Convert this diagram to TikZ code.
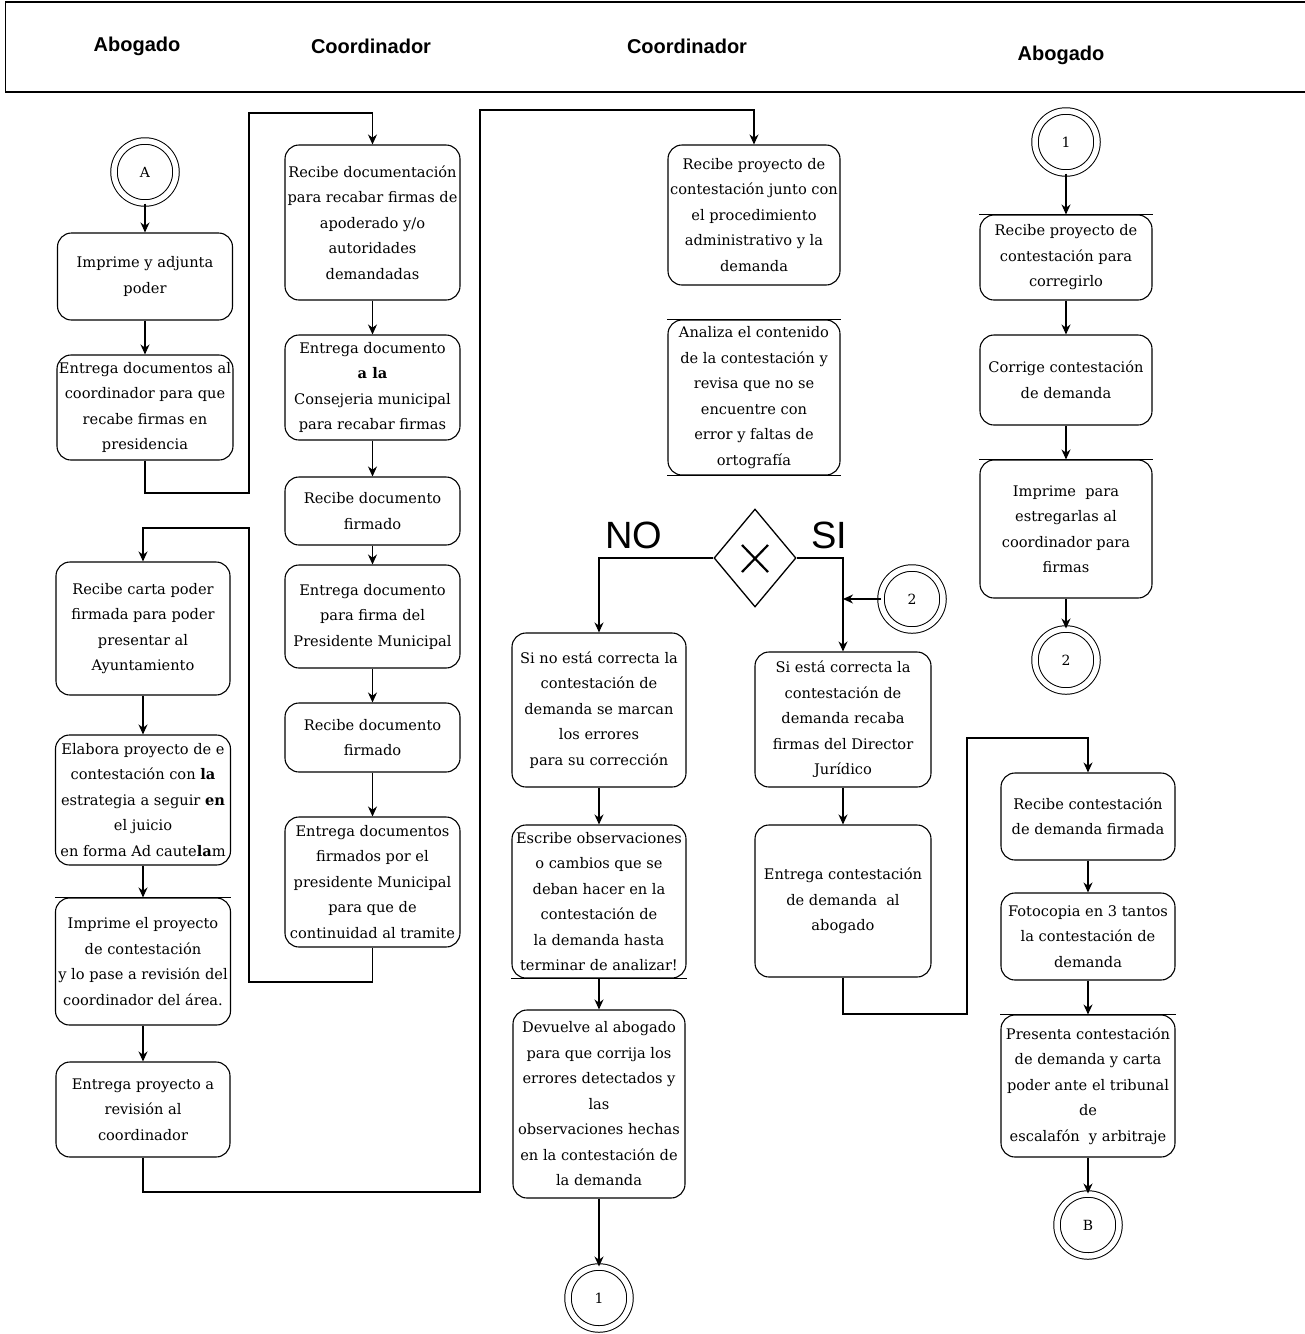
\documentclass[tikz,border=0pt]{standalone}
\usepackage{fontspec}
\setmainfont{DejaVu Serif}
\newfontfamily\hdrfont{Liberation Sans}
\usetikzlibrary{arrows.meta,shapes.geometric}
\begin{document}
\begin{tikzpicture}[x=1pt,y=-1pt,
  box/.style={draw, line width=1.1pt, rounded corners=14pt, align=center, inner sep=1pt, font=\fontsize{14.6}{25.5}\selectfont},
  conn/.style={draw, line width=1.1pt},
  arr/.style={conn, -{Stealth[length=10pt,width=9pt]}},
  circ/.style={circle, draw, line width=1pt, double, double distance=5.5pt, minimum size=62pt, inner sep=0pt, font=\fontsize{14}{16}\selectfont},
  hdr/.style={font=\hdrfont\bfseries\fontsize{20}{24}\selectfont},
  lbl/.style={font=\hdrfont\fontsize{38}{40}\selectfont},
  gate/.style={diamond, draw, line width=1.3pt, minimum width=82pt, minimum height=98pt, inner sep=0pt},
]
\useasboundingbox (0,0) rectangle (1305,1334);
\fill[white] (0,0) rectangle (1305,1334);

% header
\draw[line width=1.5pt] (5,2) -- (1305,2);
\draw[line width=1.5pt] (5,92) -- (1305,92);
\draw[line width=1pt] (5,2) -- (5,92);
\node[hdr] (h1t) at (137,46) {Abogado};
\node[hdr] (h2t) at (371,46) {Coordinador};
\node[hdr] (h3t) at (687,46) {Coordinador};
\node[hdr] (h4t) at (1061,55) {Abogado};

% column 1
\node[circ] (cA) at (145,172) {A};
\node[box, minimum width=175pt, minimum height=87pt] (b1) at (145,276.5) {Imprime y adjunta\\poder};
\node[box, minimum width=176pt, minimum height=105pt] (b2) at (145,407.5) {Entrega documentos al\\coordinador para que\\recabe firmas en\\presidencia};
\node[box, minimum width=174pt, minimum height=133pt] (b3) at (143,628.5) {Recibe carta poder\\firmada para poder\\presentar al\\Ayuntamiento};
\node[box, minimum width=175pt, minimum height=130pt] (b4) at (143,800) {Elabora proyecto de e\\contestación con \textbf{la}\\estrategia a seguir \textbf{en}\\el juicio\\en forma Ad caute\textbf{la}m};
\node[box, minimum width=175pt, minimum height=127pt] (b5) at (143,961.5) {Imprime el proyecto\\de contestación\\y lo pase a revisión del\\coordinador del área.};
\node[box, minimum width=174pt, minimum height=95pt] (b6) at (143,1109.5) {Entrega proyecto a\\revisión al\\coordinador};

% column 2
\node[box, minimum width=175pt, minimum height=155pt] (c1) at (372.5,222.5) {Recibe documentación\\para recabar firmas de\\apoderado y/o\\autoridades\\demandadas};
\node[box, minimum width=175pt, minimum height=105pt] (c2) at (372.5,387.5) {Entrega documento\\\textbf{a la}\\Consejeria municipal\\para recabar firmas};
\node[box, minimum width=175pt, minimum height=68pt] (c3) at (372.5,511) {Recibe documento\\firmado};
\node[box, minimum width=175pt, minimum height=103pt] (c4) at (372.5,616.5) {Entrega documento\\para firma del\\Presidente Municipal};
\node[box, minimum width=175pt, minimum height=69pt] (c5) at (372.5,737.5) {Recibe documento\\firmado};
\node[box, minimum width=175pt, minimum height=130pt] (c6) at (372.5,882) {Entrega documentos\\firmados por el\\presidente Municipal\\para que de\\continuidad al tramite};

% column 3
\node[box, minimum width=172pt, minimum height=140pt] (d1) at (754,215) {Recibe proyecto de\\contestación junto con\\el procedimiento\\administrativo y la\\demanda};
\node[box, minimum width=172pt, minimum height=155pt] (d2) at (754,397.5) {Analiza el contenido\\de la contestación y\\revisa que no se\\encuentre con\\error y faltas de\\ortografía};
\node[gate] (g) at (755,558) {};
\draw[line width=2.2pt] (742,545) -- (768,572);
\draw[line width=2.2pt] (768,545) -- (742,572);
\node[lbl] (lno) at (634,535) {NO};
\node[lbl] (lsi) at (829,535) {SI};
\node[circ] (c2a) at (912,599) {2};
\node[box, minimum width=174pt, minimum height=154pt] (e1) at (599,710) {Si no está correcta la\\contestación de\\demanda se marcan\\los errores\\para su corrección};
\node[box, minimum width=176pt, minimum height=135pt] (e2) at (843,719.5) {Si está correcta la\\contestación de\\demanda recaba\\firmas del Director\\Jurídico};
\node[box, minimum width=174pt, minimum height=153pt] (f1) at (599,901.5) {Escribe observaciones\\o cambios que se\\deban hacer en la\\contestación de\\la demanda hasta\\terminar de analizar!};
\node[box, minimum width=176pt, minimum height=152pt] (f2) at (843,901) {Entrega contestación\\de demanda\ \ al\\abogado};
\node[box, minimum width=172pt, minimum height=188pt] (g1) at (599,1104) {Devuelve al abogado\\para que corrija los\\errores detectados y\\las\\observaciones hechas\\en la contestación de\\la demanda};
\node[circ] (c1b) at (599,1298) {1};

% column 4
\node[circ] (c1a) at (1066,142) {1};
\node[box, minimum width=172pt, minimum height=85pt] (k1) at (1066,257.5) {Recibe proyecto de\\contestación para\\corregirlo};
\node[box, minimum width=172pt, minimum height=90pt] (k2) at (1066,380) {Corrige contestación\\de demanda};
\node[box, minimum width=172pt, minimum height=138pt] (k3) at (1066,529) {Imprime\ \ para\\estregarlas al\\coordinador para\\firmas};
\node[circ] (c2b) at (1066,660) {2};
\node[box, minimum width=174pt, minimum height=87pt] (i1) at (1088,816.5) {Recibe contestación\\de demanda firmada};
\node[box, minimum width=174pt, minimum height=87pt] (i2) at (1088,936.5) {Fotocopia en 3 tantos\\la contestación de\\demanda};
\node[box, minimum width=174pt, minimum height=142pt] (i3) at (1088,1086) {Presenta contestación\\de demanda y carta\\poder ante el tribunal\\de\\escalafón\ \ y arbitraje};
\node[circ] (cB) at (1088,1225) {B};

% straight edge artefacts on some boxes
\draw[conn] (d2.north west) -- (d2.north east);
\draw[conn] (d2.south west) -- (d2.south east);
\draw[conn] (f1.south west) -- (f1.south east);
\draw[conn] (k1.north west) -- (k1.north east);
\draw[conn] (k3.north west) -- (k3.north east);
\draw[conn] (b5.north west) -- (b5.north east);
\draw[conn] (i3.north west) -- (i3.north east);

% connectors column 1
\draw[arr] (cA) -- (b1);
\draw[arr] (b1) -- (b2);
\draw[arr] (b2.south) |- (249,493) |- (c1.north |- 0,113) -- (c1.north);
\draw[arr] (b3) -- (b4);
\draw[arr] (b4) -- (b5);
\draw[arr] (b5) -- (b6);
\draw[arr] (b6.south) |- (480,1192) |- (d1.north |- 0,110) -- (d1.north);

% column 2
\draw[arr] (c1) -- (c2);
\draw[arr] (c2) -- (c3);
\draw[arr] (c3) -- (c4);
\draw[arr] (c4) -- (c5);
\draw[arr] (c5) -- (c6);
\draw[arr] (c6.south) |- (249,982) -- (249,528) -| (b3.north);

% column 3
\draw[arr] (g.west) -| (e1.north);
\draw[arr] (g.east) -| (e2.north);
\draw[arr] (c2a) -- (e2.north |- c2a);
\draw[arr] (e1) -- (f1);
\draw[arr] (f1) -- (g1);
\draw[arr] (g1) -- (c1b);
\draw[arr] (e2) -- (f2);
\draw[arr] (f2.south) |- (967,1014) |- (i1.north |- 0,738) -- (i1.north);

% column 4
\draw[arr] (c1a) -- (k1);
\draw[arr] (k1) -- (k2);
\draw[arr] (k2) -- (k3);
\draw[arr] (k3) -- (c2b);
\draw[arr] (i1) -- (i2);
\draw[arr] (i2) -- (i3);
\draw[arr] (i3) -- (cB);
\end{tikzpicture}
\end{document}
